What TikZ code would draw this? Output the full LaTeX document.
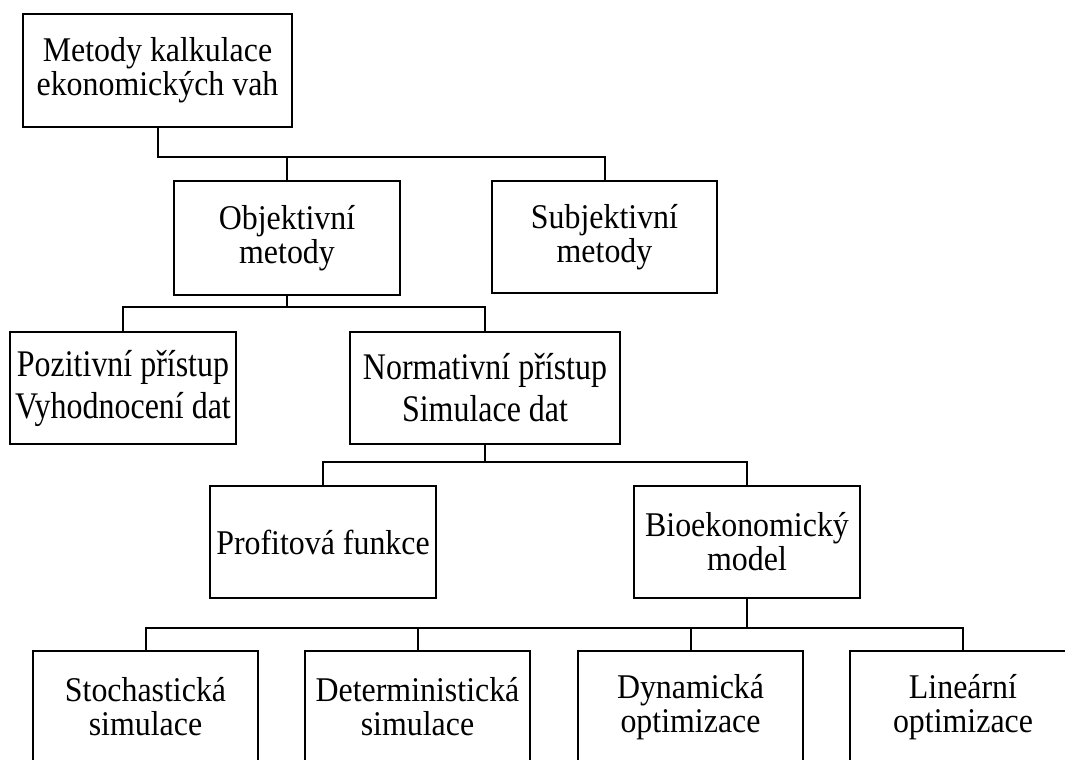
\documentclass[tikz,border=0pt]{standalone}
\usepackage{fontspec}
\setmainfont{Liberation Serif}
\newfontfamily\tallfont[FakeStretch=0.92]{Liberation Serif}
\newfontfamily\tallerfont[FakeStretch=0.85]{Liberation Serif}
\begin{document}
\begin{tikzpicture}[x=0.75pt,y=-0.75pt,
  box/.style={draw=black, line width=1.5pt, rectangle, inner sep=0pt, align=center,
    font=\tallfont\fontsize{26}{25.5}\selectfont, minimum width=226*0.75pt, minimum height=112*0.75pt},
  widebox/.style={box, font=\tallerfont\fontsize{28.2}{31.5}\selectfont},
  conn/.style={draw=black, line width=1.5pt, line cap=rect}]
\useasboundingbox (0,0) rectangle (1065,760);
\fill[white] (0,0) rectangle (1065,760);

\node[box, minimum width=269*0.75pt, minimum height=113*0.75pt] (top) at (157.5,70.5) {Metody kalkulace\\ekonomických vah};
\node[box, minimum height=114*0.75pt] (obj) at (287,238) {Objektivní\\metody};
\node[box, minimum width=225*0.75pt] (subj) at (604.5,237) {Subjektivní\\metody};
\node[widebox] (poz) at (123,388) {Pozitivní přístup\\Vyhodnocení dat};
\node[widebox, minimum width=270*0.75pt] (norm) at (485,388) {Normativní přístup\\Simulace dat};
\node[box] (prof) at (323,542) {Profitová funkce};
\node[box] (bio) at (747,542) {Bioekonomický\\model};
\node[box, minimum width=225*0.75pt] (sto) at (145.5,707) {Stochastická\\simulace};
\node[box, minimum width=225*0.75pt] (det) at (417.5,707) {Deterministická\\simulace};
\node[box, minimum width=225*0.75pt] (dyn) at (690.5,707) {Dynamická\\optimizace};
\node[box] (lin) at (963,707) {Lineární\\optimizace};

\coordinate (b1) at (157.5,157);
\coordinate (b2) at (287,307);
\coordinate (b3) at (485,462);
\coordinate (b4) at (747,628);

\draw[conn] (top.south) -- (b1) -| (subj.north);
\draw[conn] (obj.north) -- (obj.north |- b1);

\draw[conn] (obj.south) -- (b2);
\draw[conn] (poz.north) -- (poz.north |- b2) -- (norm.north |- b2) -- (norm.north);

\draw[conn] (norm.south) -- (b3);
\draw[conn] (prof.north) -- (prof.north |- b3) -- (bio.north |- b3) -- (bio.north);

\draw[conn] (bio.south) -- (b4);
\draw[conn] (sto.north) -- (sto.north |- b4) -- (lin.north |- b4) -- (lin.north);
\draw[conn] (det.north) -- (det.north |- b4);
\draw[conn] (dyn.north) -- (dyn.north |- b4);
\end{tikzpicture}
\end{document}
